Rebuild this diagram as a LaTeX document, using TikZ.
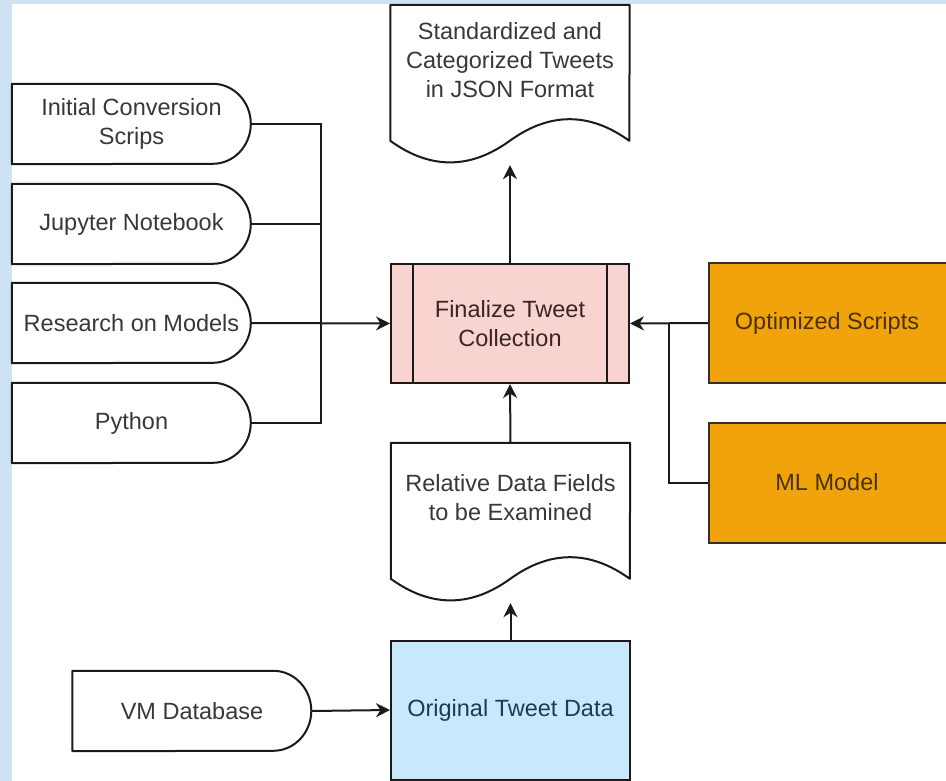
\documentclass[tikz,border=0pt]{standalone}
\usepackage{fontspec}
\setmainfont{Liberation Sans}
\usetikzlibrary{arrows.meta,calc}

\definecolor{bgblue}{HTML}{CFE2F3}
\definecolor{linec}{HTML}{1A1A1A}
\definecolor{txtgray}{HTML}{383838}
\definecolor{pinkfill}{HTML}{F8D3D0}
\definecolor{pinktext}{HTML}{3A2424}
\definecolor{bluefill}{HTML}{C8E8FB}
\definecolor{bluetext}{HTML}{1F3A55}
\definecolor{orangefill}{HTML}{F0A30A}
\definecolor{orangeline}{HTML}{3A2E1E}
\definecolor{orangetext}{HTML}{4A3200}

\tikzset{
  lbl/.style={font=\fontsize{23.5}{29}\selectfont, text=txtgray, align=center, inner sep=0pt},
  outl/.style={draw=linec, line width=2pt, line join=round},
  frame/.style={rectangle, inner sep=0pt, minimum width=239pt, minimum height=80pt},
  docframe/.style={rectangle, inner sep=0pt, minimum width=239pt, minimum height=160pt},
  wire/.style={draw=linec, line width=2pt},
  arr/.style={wire, -{Stealth[length=14pt, width=14pt, inset=4.5pt]}},
  procbox/.style={rectangle, line width=2pt, inner sep=0pt, align=center,
    font=\fontsize{23.5}{29}\selectfont},
}

% rounded-right "delay" outline around a 239x80 frame node
\newcommand\delayoutline[1]{%
  \draw[outl, fill=white] (#1.north west) -- ([shift={(201,0)}]#1.north west)
    .. controls ([shift={(222,0)}]#1.north west) and ([shift={(239,18)}]#1.north west) .. ([shift={(239,40)}]#1.north west)
    .. controls ([shift={(239,62)}]#1.north west) and ([shift={(222,80)}]#1.north west) .. ([shift={(201,80)}]#1.north west)
    -- (#1.south west) -- cycle;}

% wavy-bottom document outline around a 239x160 frame node
\newcommand\docoutline[1]{%
  \draw[outl, fill=white] (#1.north west) -- (#1.north east) -- ([shift={(239,136)}]#1.north west)
    .. controls ([shift={(199.2,107.2)}]#1.north west) and ([shift={(159.3,107.2)}]#1.north west) .. ([shift={(119.5,136)}]#1.north west)
    .. controls ([shift={(79.7,164.8)}]#1.north west) and ([shift={(39.8,164.8)}]#1.north west) .. ([shift={(0,136)}]#1.north west)
    -- cycle;}

\begin{document}
\begin{tikzpicture}[x=1pt, y=-1pt]
  \useasboundingbox (0,0) rectangle (946,781);
  \fill[bgblue] (0,0) rectangle (946,781);
  \fill[white] (12,4) rectangle (946,781);

  % input sources on the left
  \node[frame] (ics) at (131.5,124) {};
  \node[frame] (jup) at (131.5,224) {};
  \node[frame] (res) at (131.5,323) {};
  \node[frame] (pyt) at (131.5,423) {};
  \node[frame] (vmd) at (192,711) {};
  \foreach \n in {ics,jup,res,pyt,vmd} {\delayoutline{\n}}
  \node[lbl] (icsT) at (ics) {Initial Conversion\\Scrips};
  \node[lbl] (jupT) at (jup) {Jupyter Notebook};
  \node[lbl] (resT) at (res) {Research on Models};
  \node[lbl] (pytT) at (pyt) {Python};
  \node[lbl] (vmdT) at (vmd) {VM Database};

  % documents
  \node[docframe] (out) at (510,85) {};
  \docoutline{out}
  \node[lbl] (outT) at (510,60) {Standardized and\\Categorized Tweets\\in JSON Format};
  \node[docframe] (rel) at (510.5,523) {};
  \docoutline{rel}
  \node[lbl] (relT) at (510.5,498) {Relative Data Fields\\to be Examined};

  % central process
  \node[procbox, draw=linec, fill=pinkfill, text=pinktext, minimum width=238pt, minimum height=119pt]
        (fin) at (510,323.5) {Finalize Tweet\\Collection};
  \draw[outl] ([xshift=23pt]fin.north west) -- ([xshift=23pt]fin.south west);
  \draw[outl] ([xshift=-23pt]fin.north east) -- ([xshift=-23pt]fin.south east);

  % raw data
  \node[procbox, draw=linec, fill=bluefill, text=bluetext, minimum width=239pt, minimum height=139pt]
        (org) at (510.5,710) {Original Tweet Data};

  % supporting resources on the right
  \node[procbox, draw=orangeline, fill=orangefill, minimum width=240pt, minimum height=120pt]
        (opt) at (829,323) {};
  \node[procbox, draw=orangeline, fill=orangefill, minimum width=240pt, minimum height=120pt]
        (mlm) at (829,482.5) {};
  \node[procbox, text=orangetext] (optT) at (827,323) {Optimized Scripts};
  \node[procbox, text=orangetext] (mlmT) at (827,482.5) {ML Model};

  % connectors
  \coordinate (bus) at (321,323);
  \coordinate (joint) at (669,323);
  \draw[wire] (ics.east) -| (bus);
  \draw[wire] (pyt.east) -| (bus);
  \draw[wire] (jup.east) -- (jup.east -| bus);
  \draw[arr] (res.east) -- (fin.west);
  \draw[arr] (opt.west) -- (fin.east);
  \draw[wire] (mlm.west) -| (joint);
  \draw[arr] (fin.north) -- (out.south);
  \draw[arr] (rel.north) -- (fin.south);
  \draw[arr] (org.north) -- (rel.south);
  \draw[arr] (vmd.east) -- (org.west);
\end{tikzpicture}
\end{document}
